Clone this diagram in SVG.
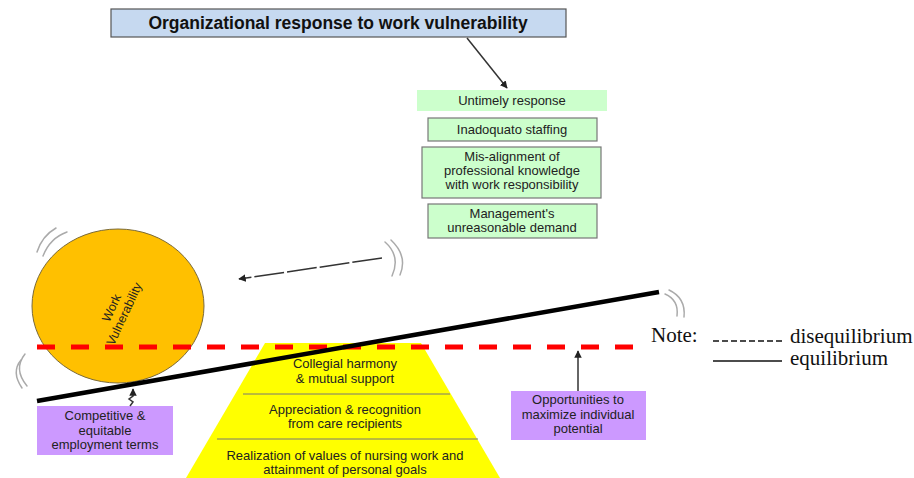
<svg xmlns="http://www.w3.org/2000/svg" width="914" height="478" viewBox="0 0 914 478">
<style>
.t{font-family:"Liberation Sans",Arial,sans-serif;font-size:13px;fill:#222;text-anchor:middle}
.title{font-family:"Liberation Sans",Arial,sans-serif;font-size:17.5px;font-weight:bold;fill:#111;text-anchor:middle}
.leg{font-family:"Liberation Serif","Times New Roman",serif;font-size:21px;fill:#111}
.gbox{fill:#ccffcc;stroke:#777;stroke-width:1.2}
.pbox{fill:#cc99ff;stroke:none}
.motion{fill:none;stroke:#aaa;stroke-width:1.5;stroke-linecap:round}
.conn{fill:none;stroke:#333;stroke-width:1.5}
</style>
<defs>
<marker id="ah" viewBox="0 0 10 10" refX="9" refY="5" markerWidth="5" markerHeight="5" orient="auto-start-reverse">
<path d="M0,0 L10,5 L0,10 z" fill="#222"/>
</marker>
</defs>
<rect width="914" height="478" fill="#fff"/>

<g id="title">
<rect x="111" y="9" width="455" height="28" fill="#c6d9f0" stroke="#555" stroke-width="1.2"/>
<text class="title" x="338" y="29">Organizational response to work vulnerability</text>
</g>

<g id="untimely">
<rect x="417" y="90" width="190" height="21" fill="#ccffcc"/>
<text class="t" x="512" y="105">Untimely response</text>
</g>
<g id="staffing">
<rect class="gbox" x="428" y="118" width="169" height="23"/>
<text class="t" x="512" y="134">Inadoquato staffing</text>
</g>
<g id="misalignment">
<rect class="gbox" x="422" y="147" width="179" height="51"/>
<text class="t" x="512" y="161">Mis-alignment of</text>
<text class="t" x="512" y="175">professional knowledge</text>
<text class="t" x="512" y="189">with work responsibility</text>
</g>
<g id="management">
<rect class="gbox" x="428" y="204" width="169" height="34"/>
<text class="t" x="512" y="218">Management's</text>
<text class="t" x="512" y="232">unreasonable demand</text>
</g>

<g id="pyramid">
<polygon points="265,343 421,343 500,478 186,478" fill="#ffff00"/>
<line x1="243" y1="394" x2="450" y2="394" stroke="#777" stroke-width="1"/>
<line x1="217" y1="439" x2="478" y2="439" stroke="#777" stroke-width="1"/>
<text class="t" x="345" y="368">Collegial harmony</text>
<text class="t" x="345" y="383">&amp; mutual support</text>
<text class="t" x="345" y="414">Appreciation &amp; recognition</text>
<text class="t" x="345" y="428">from care recipients</text>
<text class="t" x="345" y="460">Realization of values of nursing work and</text>
<text class="t" x="345" y="474">attainment of personal goals</text>
</g>

<g id="work-vulnerability">
<ellipse cx="118" cy="306" rx="86" ry="77" fill="#ffc000" stroke="#7a6a3a" stroke-width="1"/>
<g transform="translate(118,311) rotate(-65)">
<text class="t" x="0" y="-3" style="font-size:12.5px">Work</text>
<text class="t" x="0" y="11" style="font-size:12.5px">Vulnerability</text>
</g>
</g>

<g id="disequilibrium-line">
<line x1="37" y1="347" x2="640" y2="347" stroke="#ff0000" stroke-width="5" stroke-dasharray="18,16"/>
</g>

<g id="lever">
<line x1="37" y1="401" x2="659" y2="292" stroke="#000" stroke-width="4.5"/>
</g>

<g id="competitive">
<rect class="pbox" x="37" y="406" width="136" height="49"/>
<text class="t" x="105" y="420">Competitive &amp;</text>
<text class="t" x="105" y="435">equitable</text>
<text class="t" x="105" y="449">employment terms</text>
</g>

<g id="opportunities">
<rect class="pbox" x="511" y="391" width="135" height="49"/>
<text class="t" x="578" y="404">Opportunities to</text>
<text class="t" x="578" y="419">maximize individual</text>
<text class="t" x="578" y="433">potential</text>
</g>

<g id="connectors">
<line class="conn" x1="467" y1="38" x2="507" y2="88" marker-end="url(#ah)"/>
<line class="conn" x1="382" y1="258" x2="239" y2="279" stroke-dasharray="30,3" marker-end="url(#ah)"/>
<path class="conn" d="M130,406 L133,402 L129,399 L133,396 L133,389" stroke-width="1" marker-end="url(#ah)"/>
<line class="conn" x1="578" y1="391" x2="578" y2="351" stroke-width="1" marker-end="url(#ah)"/>
</g>

<g id="motion-marks">
<path class="motion" d="M37,252 Q42,236 56,228"/>
<path class="motion" d="M43,256 Q50,238 67,232"/>
<path class="motion" d="M25,354 Q13,369 27,386"/>
<path class="motion" d="M21,360 Q11,372 22,388"/>
<path class="motion" d="M385,242 Q401,256 392,276"/>
<path class="motion" d="M391,240 Q408,256 400,275"/>
<path class="motion" d="M665,294 Q679,300 677,316"/>
<path class="motion" d="M669,290 Q686,298 684,317"/>
</g>

<g id="legend">
<text class="leg" x="651" y="342">Note:</text>
<line x1="713" y1="341" x2="782" y2="341" stroke="#111" stroke-width="1.5" stroke-dasharray="6,3"/>
<text class="leg" x="790" y="343">disequilibrium</text>
<line x1="713" y1="361" x2="782" y2="361" stroke="#111" stroke-width="1.5"/>
<text class="leg" x="790" y="365">equilibrium</text>
</g>
</svg>
